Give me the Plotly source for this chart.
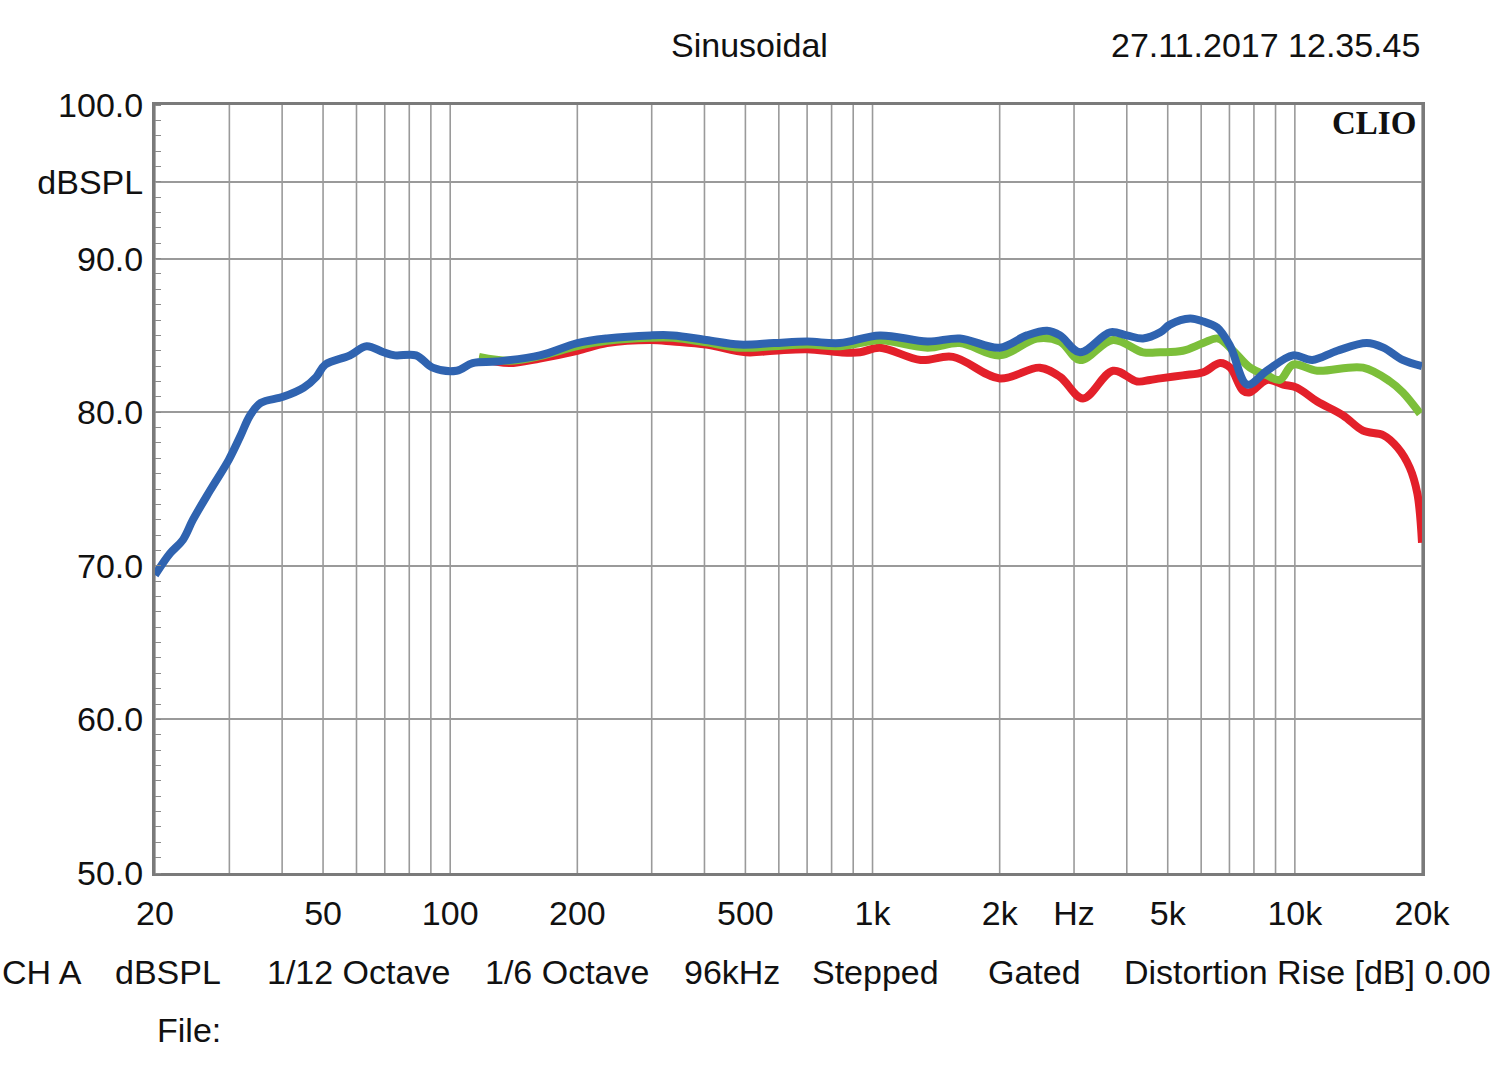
import plotly.graph_objects as go

# ---- data ----
blue_f = [20, 21.7, 23.3, 24.6, 27.0, 29.9, 31.8, 33.6, 35.6, 40.2, 45.0, 48.2, 50.6, 57.9, 63.4, 69.5,
          74.0, 83.0, 90.9, 103.6, 113, 129, 163, 200, 235, 298, 337, 404, 485, 584, 700, 837, 1040,
          1350, 1610, 2000, 2320, 2590, 2780, 3100, 3650, 4000, 4370, 4800, 5060, 5650, 6070, 6550,
          7030, 7710, 8590, 9900, 11000, 12600, 14800, 16200, 18000, 20000]
blue_db = [69.4, 70.8, 71.7, 73.0, 74.9, 76.9, 78.4, 79.8, 80.6, 81.0, 81.6, 82.3, 83.1, 83.7, 84.3, 83.9,
           83.7, 83.7, 82.9, 82.7, 83.2, 83.3, 83.7, 84.5, 84.8, 85.0, 85.0, 84.7, 84.4, 84.5, 84.6, 84.5, 85.0,
           84.6, 84.8, 84.2, 85.0, 85.3, 85.0, 83.9, 85.2, 85.0, 84.8, 85.2, 85.7, 86.1, 85.9, 85.5,
           84.3, 81.8, 82.7, 83.7, 83.4, 84.0, 84.5, 84.2, 83.4, 83.0]

red_f = [117, 138, 163, 200, 235, 298, 337, 404, 502, 584, 700, 837, 934, 1040, 1300, 1550, 2000, 2490,
         2780, 3150, 3710, 4230, 4540, 4800, 5430, 6070, 6650, 7030, 7540, 7830, 8590, 9380, 10100,
         11300, 13000, 14500, 16200, 17500, 18700, 19500, 20000]
red_db = [83.5, 83.2, 83.5, 84.0, 84.5, 84.7, 84.6, 84.4, 83.9, 84.0, 84.1, 83.9, 83.9, 84.2, 83.4, 83.6, 82.2, 82.9,
          82.3, 80.9, 82.7, 82.0, 82.1, 82.2, 82.4, 82.6, 83.2, 82.9, 81.4, 81.3, 82.1, 81.8, 81.6,
          80.7, 79.8, 78.8, 78.5, 77.7, 76.4, 74.7, 71.5]

green_f = [117, 138, 163, 200, 235, 298, 337, 404, 485, 584, 700, 837, 934, 1040, 1350, 1610, 2000, 2450,
           2780, 3100, 3710, 4370, 4800, 5430, 6070, 6580, 7140, 7830, 8590, 9220, 9900, 11300, 14500,
           16800, 18000, 19800]
green_db = [83.6, 83.35, 83.65, 84.3, 84.65, 84.85, 84.85, 84.55, 84.2, 84.3, 84.4, 84.3, 84.5, 84.7, 84.2, 84.5,
            83.7, 84.8, 84.6, 83.4, 84.7, 83.9, 83.9, 84.0, 84.5, 84.8, 84.0, 82.9, 82.4, 82.1, 83.1, 82.7,
            82.9, 82.0, 81.3, 79.9]

x_grid = [20, 30, 40, 50, 60, 70, 80, 90, 100, 200, 300, 400, 500, 600, 700, 800, 900, 1000,
          2000, 3000, 4000, 5000, 6000, 7000, 8000, 9000, 10000, 20000]
x_tickvals = [20, 50, 100, 200, 500, 1000, 2000, 3000, 5000, 10000, 20000]
x_ticktext = ["20", "50", "100", "200", "500", "1k", "2k", "Hz", "5k", "10k", "20k"]
y_tickvals = [50, 60, 70, 80, 90, 95, 100]
y_ticktext = ["50.0", "60.0", "70.0", "80.0", "90.0", "dBSPL", "100.0"]

footer_texts = ["CH A", "dBSPL", "1/12 Octave", "1/6 Octave", "96kHz", "Stepped", "Gated",
                "Distortion Rise [dB] 0.00"]
footer_x = [-0.1223, -0.0331, 0.0868, 0.2589, 0.4159, 0.517, 0.6559, 0.7632]

FONT = "Liberation Sans, Arial, sans-serif"
FS = 34

fig = go.Figure()
# vertical grid lines (log decades)
for g in x_grid:
    fig.add_shape(type="line", xref="x", yref="paper", x0=g, x1=g, y0=0, y1=1,
                  line=dict(color="#9a9a9a", width=1.6), layer="below")

fig.add_trace(go.Scatter(x=red_f, y=red_db, mode="lines", line=dict(color="#e3202a", width=8, shape="spline"),
                         showlegend=False))
fig.add_trace(go.Scatter(x=green_f, y=green_db, mode="lines", line=dict(color="#7cbf3a", width=8, shape="spline"),
                         showlegend=False))
fig.add_trace(go.Scatter(x=blue_f, y=blue_db, mode="lines", line=dict(color="#2f63b0", width=8, shape="spline"),
                         showlegend=False))

fig.update_xaxes(type="log", range=[1.30103, 4.30103], showgrid=False, zeroline=False,
                 tickvals=x_tickvals, ticktext=x_ticktext, ticks="",
                 tickfont=dict(family=FONT, size=FS, color="#111"), ticklabelstandoff=8,
                 showline=True, linecolor="#7a7a7a", linewidth=3, mirror=True)
fig.update_yaxes(range=[50, 100], dtick=5, showgrid=True, gridcolor="#9a9a9a", gridwidth=1.6, zeroline=False,
                 tickmode="array", tickvals=y_tickvals, ticktext=y_ticktext, ticks="",
                 tickfont=dict(family=FONT, size=FS, color="#111"), ticklabelstandoff=2,
                 showline=True, linecolor="#7a7a7a", linewidth=3, mirror=True,
                 minor=dict(dtick=1, ticks="inside", ticklen=6, tickcolor="#8a8a8a", tickwidth=1, showgrid=False))

anns = [
    dict(text="Sinusoidal", x=0.4696, y=1.078, xanchor="center", yanchor="middle",
         font=dict(family=FONT, size=FS, color="#111")),
    dict(text="27.11.2017 12.35.45", x=1.0, y=1.078, xanchor="right", yanchor="middle",
         font=dict(family=FONT, size=FS, color="#111")),
    dict(text="<b>CLIO</b>", x=0.9968, y=0.9766, xanchor="right", yanchor="middle",
         font=dict(family="Liberation Serif, Times New Roman, serif", size=33, color="#111")),
    dict(text="File:", x=0.0, y=-0.2044, xanchor="left", yanchor="middle",
         font=dict(family=FONT, size=FS, color="#111")),
]
for t, xp in zip(footer_texts, footer_x):
    anns.append(dict(text=t, x=xp, y=-0.1289, xanchor="left", yanchor="middle",
                     font=dict(family=FONT, size=FS, color="#111")))
for a in anns:
    a.update(xref="paper", yref="paper", showarrow=False)

fig.update_layout(width=1500, height=1086, margin=dict(l=155, r=78, t=105, b=213),
                  paper_bgcolor="white", plot_bgcolor="white", annotations=anns)

fig.write_html("out.html")
